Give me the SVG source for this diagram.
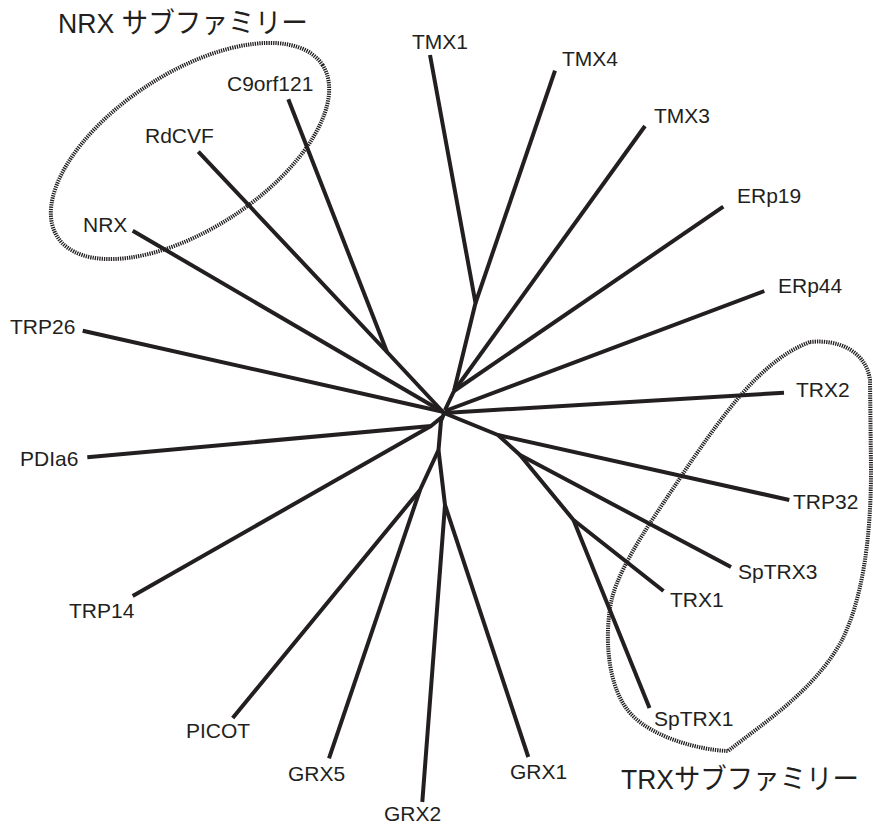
<svg xmlns="http://www.w3.org/2000/svg" width="873" height="827" viewBox="0 0 873 827">
<style>
.br{fill:none;stroke:#231f20;stroke-width:4;stroke-linecap:butt;stroke-linejoin:round}
.lb{font-family:"Liberation Sans",Arial,sans-serif;font-size:21px;fill:#231f20}
.tt{font-family:"Liberation Sans","Noto Sans CJK JP",sans-serif;font-size:28px;fill:#231f20}
.grp{fill:none;stroke:#231f20;stroke-width:4;stroke-dasharray:1.3 1}
</style>
<rect width="873" height="827" fill="#ffffff"/>
<g id="groups">
<ellipse id="nrx-family" class="grp" cx="190" cy="151" rx="158" ry="78" transform="rotate(-33 190 151)"/>
<path id="trx-family" class="grp" d="M810 342 C840 339 866 352 870 380 L871 470 C871 540 862 600 842 640 C815 690 765 722 728 751 C700 750 655 738 633 716 C606 690 604 632 612 598 C622 560 658 512 688 466 C720 420 760 360 810 342 Z"/>
</g>
<g id="connectors">
<polyline class="br" points="430,55 475.5,303 454,391 445,410"/>
<line class="br" x1="555" y1="70.7" x2="475.5" y2="303"/>
<line class="br" x1="645" y1="126" x2="454" y2="391"/>
<line class="br" x1="723.3" y1="206.7" x2="454" y2="391"/>
<line class="br" x1="764.3" y1="291" x2="445" y2="411"/>
<line class="br" x1="784" y1="392.7" x2="444" y2="413"/>
<polyline class="br" points="444,413 498,435 789.3,500"/>
<polyline class="br" points="498,435 520,455 731,567"/>
<polyline class="br" points="520,455 573.5,520 663.5,591"/>
<line class="br" x1="573.5" y1="520" x2="649.5" y2="708"/>
<polyline class="br" points="445,411 441,421 438.5,450"/>
<polyline class="br" points="87.3,457.3 431,426 442,417"/>
<line class="br" x1="132.7" y1="596" x2="431" y2="426"/>
<polyline class="br" points="438.5,450 420,490 232.7,718"/>
<line class="br" x1="420" y1="490" x2="329" y2="758.3"/>
<polyline class="br" points="438.5,450 445,505 422.3,802"/>
<line class="br" x1="445" y1="505" x2="528.3" y2="757"/>
<line class="br" x1="132.7" y1="230.7" x2="443" y2="412"/>
<polyline class="br" points="198.3,151.7 387,352 443,412"/>
<line class="br" x1="288.3" y1="99.3" x2="387" y2="352"/>
<line class="br" x1="82.7" y1="330.7" x2="444" y2="412"/>
</g>
<g id="n-TMX1"><text class="lb" x="412" y="49">TMX1</text></g>
<g id="n-TMX4"><text class="lb" x="562" y="66">TMX4</text></g>
<g id="n-TMX3"><text class="lb" x="654" y="123">TMX3</text></g>
<g id="n-ERp19"><text class="lb" x="737" y="203">ERp19</text></g>
<g id="n-ERp44"><text class="lb" x="778" y="293">ERp44</text></g>
<g id="n-TRX2"><text class="lb" x="796" y="397">TRX2</text></g>
<g id="n-TRP32"><text class="lb" x="793" y="509">TRP32</text></g>
<g id="n-SpTRX3"><text class="lb" x="738" y="579">SpTRX3</text></g>
<g id="n-TRX1"><text class="lb" x="670" y="607">TRX1</text></g>
<g id="n-SpTRX1"><text class="lb" x="654" y="726">SpTRX1</text></g>
<g id="n-GRX1"><text class="lb" x="510" y="779">GRX1</text></g>
<g id="n-GRX2"><text class="lb" x="384" y="821">GRX2</text></g>
<g id="n-GRX5"><text class="lb" x="288" y="781">GRX5</text></g>
<g id="n-PICOT"><text class="lb" x="186" y="738">PICOT</text></g>
<g id="n-TRP14"><text class="lb" x="69" y="618">TRP14</text></g>
<g id="n-PDIa6"><text class="lb" x="20" y="466">PDIa6</text></g>
<g id="n-TRP26"><text class="lb" x="10" y="334">TRP26</text></g>
<g id="n-NRX"><text class="lb" x="83" y="232">NRX</text></g>
<g id="n-RdCVF"><text class="lb" x="145" y="143">RdCVF</text></g>
<g id="n-C9orf121"><text class="lb" x="227" y="91">C9orf121</text></g>
<g id="title-nrx"><text class="tt" x="58" y="33" textLength="250" lengthAdjust="spacingAndGlyphs">NRX サブファミリー</text></g>
<g id="title-trx"><text class="tt" x="621" y="789" textLength="238" lengthAdjust="spacingAndGlyphs">TRXサブファミリー</text></g>
</svg>
